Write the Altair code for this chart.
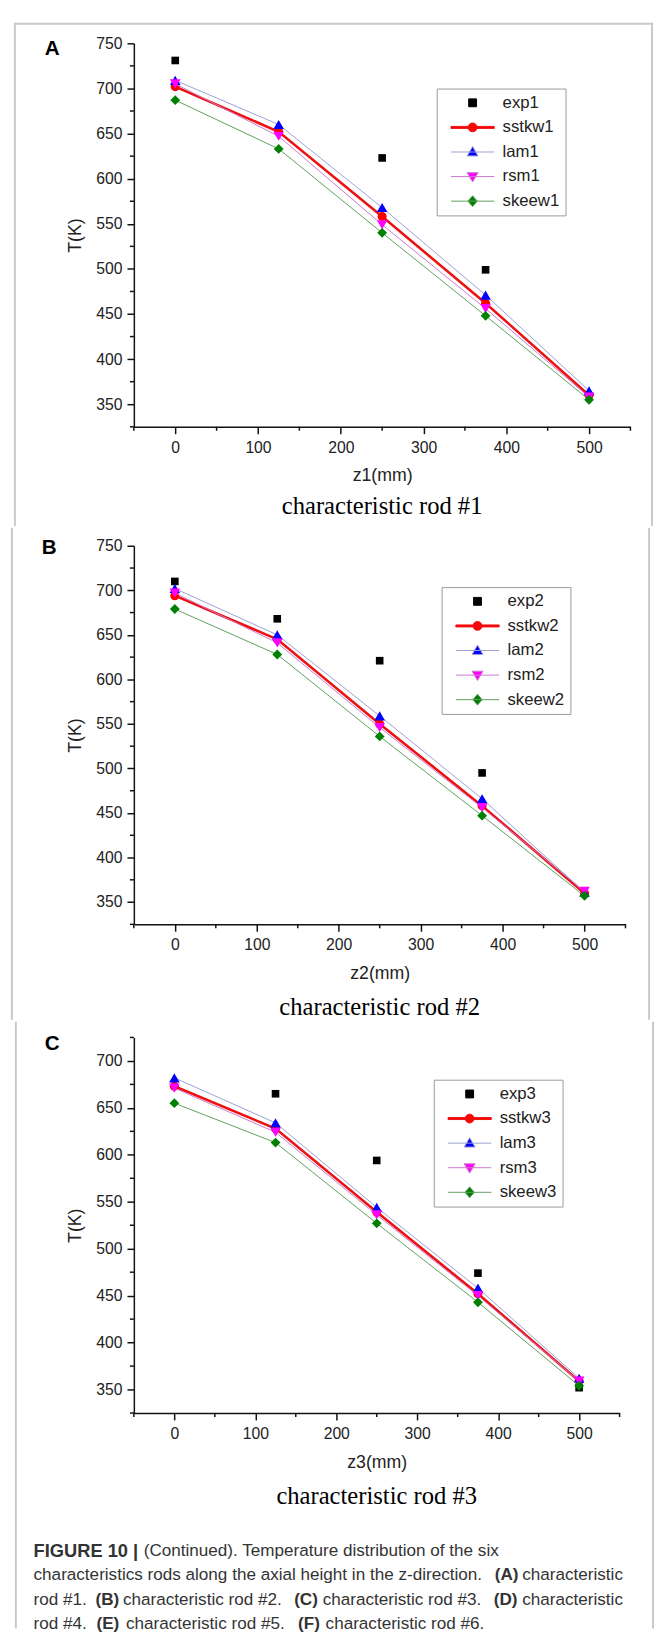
import altair as alt
import pandas as pd

# ---------------- data ----------------
Z = [0, 125, 250, 375, 500]
SIMS = ["sstkw", "lam", "rsm", "skeew"]
X_TICKS = [0, 100, 200, 300, 400, 500]
X_MINOR = [-50, 50, 150, 250, 350, 450, 550]

A_exp_z = [0, 250, 375]
A_exp_T = [731, 623, 499]
A_sstkw = [702, 652, 558, 462, 360]
A_lam = [709, 660, 568, 471, 365]
A_rsm = [705, 647, 549, 456, 358]
A_skeew = [687, 633, 540, 448, 355]

B_exp_z = [0, 125, 250, 375]
B_exp_T = [710, 668, 621, 495]
B_sstkw = [694, 645, 550, 458, 360]
B_lam = [702, 650, 559, 466, 361]
B_rsm = [697, 641, 546, 456, 362]
B_skeew = [679, 628, 536, 447, 357]

C_exp_z = [125, 250, 375, 500]
C_exp_T = [665, 594, 474, 352]
C_sstkw = [673, 628, 539, 452, 359]
C_lam = [682, 634, 544, 458, 362]
C_rsm = [671, 624, 536, 450, 359]
C_skeew = [655, 613, 527, 443, 354]

Y_TICKS_AB = [350, 400, 450, 500, 550, 600, 650, 700, 750]
Y_MINOR_AB = [325, 375, 425, 475, 525, 575, 625, 675, 725]
Y_TICKS_C = [350, 400, 450, 500, 550, 600, 650, 700]
Y_MINOR_C = [325, 375, 425, 475, 525, 575, 625, 675, 725]

CAPTION = [
    [("FIGURE 10", True, 18.6), ("|", True, 18.6),
     ("(Continued). Temperature distribution of the six", False, 17.4)],
    [("characteristics rods along the axial height in the z-direction.", False, 17.4),
     ("(A)", True, 17.4), ("characteristic", False, 17.4)],
    [("rod #1.", False, 17.4), ("(B)", True, 17.4), ("characteristic rod #2.", False, 17.4),
     ("(C)", True, 17.4), ("characteristic rod #3.", False, 17.4), ("(D)", True, 17.4),
     ("characteristic", False, 17.4)],
    [("rod #4.", False, 17.4), ("(E)", True, 17.4), ("characteristic rod #5.", False, 17.4),
     ("(F)", True, 17.4), ("characteristic rod #6.", False, 17.4)],
]
# caption layout (page x of each run start)
CAPTION_X = [[29, 130, 141], [29, 498, 526], [29, 92, 120, 294, 323, 497, 526],
             [29, 93, 123, 298, 326]]
CAPTION_Y = [1558, 1583, 1608, 1633]

# ---------------- styles ----------------
MARKER = {"exp": ("square", "#000000", 60), "sstkw": ("circle", "#ff0000", 85),
          "lam": ("triangle-up", "#0000ff", 115), "rsm": ("triangle-down", "#ff00ff", 115),
          "skeew": ("diamond", "#008000", 100)}
LINE = {"sstkw": ("#ee1111", 2.6), "lam": ("#9aa0d2", 1.0), "rsm": ("#cc77cc", 1.0),
        "skeew": ("#5f9f5f", 1.0)}
LEG_PATHS = {
    "exp": "M-0.8,-0.8H0.8V0.8H-0.8Z",
    "sstkw": "M-4.4,-0.2H4.4V0.2H-4.4Z M-0.9,0A0.9,0.9,0,1,1,0.9,0A0.9,0.9,0,1,1,-0.9,0Z",
    "lam": "M-4.4,0H4.4 M0,-1.1L1.1,0.8H-1.1Z",
    "rsm": "M-4.4,0H4.4 M0,1.1L1.1,-0.8H-1.1Z",
    "skeew": "M-4.4,0H4.4 M0,-1.1L0.95,0L0,1.1L-0.95,0Z",
}
LEG_STROKE = {"exp": "#000000", "sstkw": "#ee1111", "lam": "#9aa0d2", "rsm": "#cc77cc",
              "skeew": "#5f9f5f"}
FONT = "Liberation Sans"
FRAME = "#c8c8c8"
one = pd.DataFrame({"a": [0]})


def panel(letter, num, exp_z, exp_T, sims, ydom, yticks, yminor,
          left, top, w, h, leg_xy, letter_xy, rod_dy, bound_top, bound_bot, caption=False):
    xs = alt.Scale(domain=[-50, 550], nice=False, zero=False)
    ys = alt.Scale(domain=ydom, nice=False, zero=False)
    xa = alt.Axis(title=f"z{num}(mm)", values=X_TICKS, grid=False, labelFont=FONT,
                  labelFontSize=16, labelColor="#222", labelPadding=6, tickSize=7,
                  tickWidth=1.5, tickColor="#111", domainColor="#111", domainWidth=1.5,
                  titleFont=FONT, titleFontSize=18, titleFontWeight="normal",
                  titleColor="#222", titlePadding=12)
    ya = alt.Axis(title="T(K)", values=yticks, grid=False, labelFont=FONT,
                  labelFontSize=16, labelColor="#222", labelPadding=5, tickSize=7,
                  tickWidth=1.5, tickColor="#111", domainColor="#111", domainWidth=1.5,
                  titleFont=FONT, titleFontSize=18, titleFontWeight="normal",
                  titleColor="#222", titlePadding=12)
    X = lambda f: alt.X(f, scale=xs, axis=xa)
    Y = lambda f: alt.Y(f, scale=ys, axis=ya)

    xl, xr = 11 - left, 659 - left
    layers = []
    # frame of the figure
    for xv in (xl, xr):
        layers.append(alt.Chart(one).mark_rule(color=FRAME, strokeWidth=2, strokeCap="square").encode(
            x=alt.value(xv), y=alt.value(bound_top), y2=alt.value(bound_bot)))
    if letter == "A":
        layers.append(alt.Chart(one).mark_rule(color=FRAME, strokeWidth=2).encode(
            x=alt.value(xl - 1), x2=alt.value(xr + 1), y=alt.value(bound_top)))

    # minor ticks
    layers.append(alt.Chart(pd.DataFrame({"v": yminor})).mark_rule(
        color="#111", strokeWidth=1.5).encode(y=Y("v:Q"), x=alt.value(-4), x2=alt.value(0)))
    layers.append(alt.Chart(pd.DataFrame({"v": X_MINOR})).mark_rule(
        color="#111", strokeWidth=1.5).encode(x=X("v:Q"), y=alt.value(h), y2=alt.value(h + 4)))

    names = ["exp" + num] + [s + num for s in SIMS]
    frames = [pd.DataFrame({"z": exp_z, "T": exp_T, "name": names[0]})]
    shp, col, sz = MARKER["exp"]
    layers.append(alt.Chart(frames[0]).mark_point(
        shape=shp, filled=True, color=col, size=sz, opacity=1).encode(x=X("z:Q"), y=Y("T:Q")))
    for s, vals in zip(SIMS, sims):
        df = pd.DataFrame({"z": Z, "T": vals, "name": s + num})
        frames.append(df)
        lc, lw = LINE[s]
        layers.append(alt.Chart(df).mark_line(color=lc, strokeWidth=lw).encode(
            x=X("z:Q"), y=Y("T:Q")))
        shp, col, sz = MARKER[s]
        layers.append(alt.Chart(df).mark_point(
            shape=shp, filled=True, color=col, size=sz, opacity=1).encode(x=X("z:Q"), y=Y("T:Q")))

    # legend (invisible layer carrying the legend)
    allf = pd.concat(frames, ignore_index=True)
    keys = ["exp"] + SIMS
    lg = alt.Legend(title=None, orient="none", legendX=leg_xy[0], legendY=leg_xy[1],
                    strokeColor="#999", fillColor="white", padding=6, labelFont=FONT,
                    labelFontSize=17, labelColor="#222", symbolSize=100,
                    symbolStrokeWidth=1, symbolOpacity=1, rowPadding=7, symbolOffset=22,
                    labelOffset=22, labelExpr="datum.label + '\u00a0\u00a0'")
    layers.append(alt.Chart(allf).mark_point(filled=True, opacity=0).encode(
        x=X("z:Q"), y=Y("T:Q"),
        fill=alt.Fill("name:N", scale=alt.Scale(domain=names, range=[MARKER[k][1] for k in keys]), legend=lg),
        stroke=alt.Stroke("name:N", scale=alt.Scale(domain=names, range=[LEG_STROKE[k] for k in keys]), legend=lg),
        shape=alt.Shape("name:N", scale=alt.Scale(domain=names, range=[LEG_PATHS[k] for k in keys]), legend=lg),
    ))

    # panel letter and rod title
    layers.append(alt.Chart(one).mark_text(text=letter, font=FONT, fontSize=21, fontWeight="bold",
                                           color="#000", align="center", baseline="middle").encode(
        x=alt.value(letter_xy[0]), y=alt.value(letter_xy[1])))
    layers.append(alt.Chart(one).mark_text(text=f"characteristic rod #{num}", font="Liberation Serif",
                                           fontSize=25, color="#000", align="center",
                                           baseline="middle").encode(
        x=alt.value(w / 2), y=alt.value(h + rod_dy)))

    if caption:
        for runs, xs_, py in zip(CAPTION, CAPTION_X, CAPTION_Y):
            for (txt, bold, fs), px in zip(runs, xs_):
                layers.append(alt.Chart(one).mark_text(
                    text=txt, font=FONT, fontSize=fs, color="#333",
                    fontWeight="bold" if bold else "normal", align="left",
                    baseline="middle").encode(x=alt.value(px - left), y=alt.value(py - top)))

    return alt.layer(*layers).properties(width=w, height=h)


pA = panel("A", "1", A_exp_z, A_exp_T, [A_sstkw, A_lam, A_rsm, A_skeew], [325, 750],
           Y_TICKS_AB, Y_MINOR_AB, 132, 29, 505, 390, (308, 46), (-83, 6), 81, -20, 490)
pB = panel("B", "2", B_exp_z, B_exp_T, [B_sstkw, B_lam, B_rsm, B_skeew], [325, 750],
           Y_TICKS_AB, Y_MINOR_AB, 135, 538, 500, 385, (313, 42), (-86, 2), 84, -17, 481)
pC = panel("C", "3", C_exp_z, C_exp_T, [C_sstkw, C_lam, C_rsm, C_skeew], [325, 725],
           Y_TICKS_C, Y_MINOR_C, 131, 1036, 494, 382, (305, 43), (-83, 7), 85, -15, 600,
           caption=True)

chart = alt.vconcat(pA, pB, pC, spacing=0).resolve_scale(
    fill="independent", stroke="independent", shape="independent"
).resolve_legend(
    fill="independent", stroke="independent", shape="independent"
).configure_view(stroke=None).properties(
    padding={"left": 2, "top": 0, "right": 0, "bottom": 0})

chart.save("out.html", embed_options={"renderer": "svg", "actions": False})
